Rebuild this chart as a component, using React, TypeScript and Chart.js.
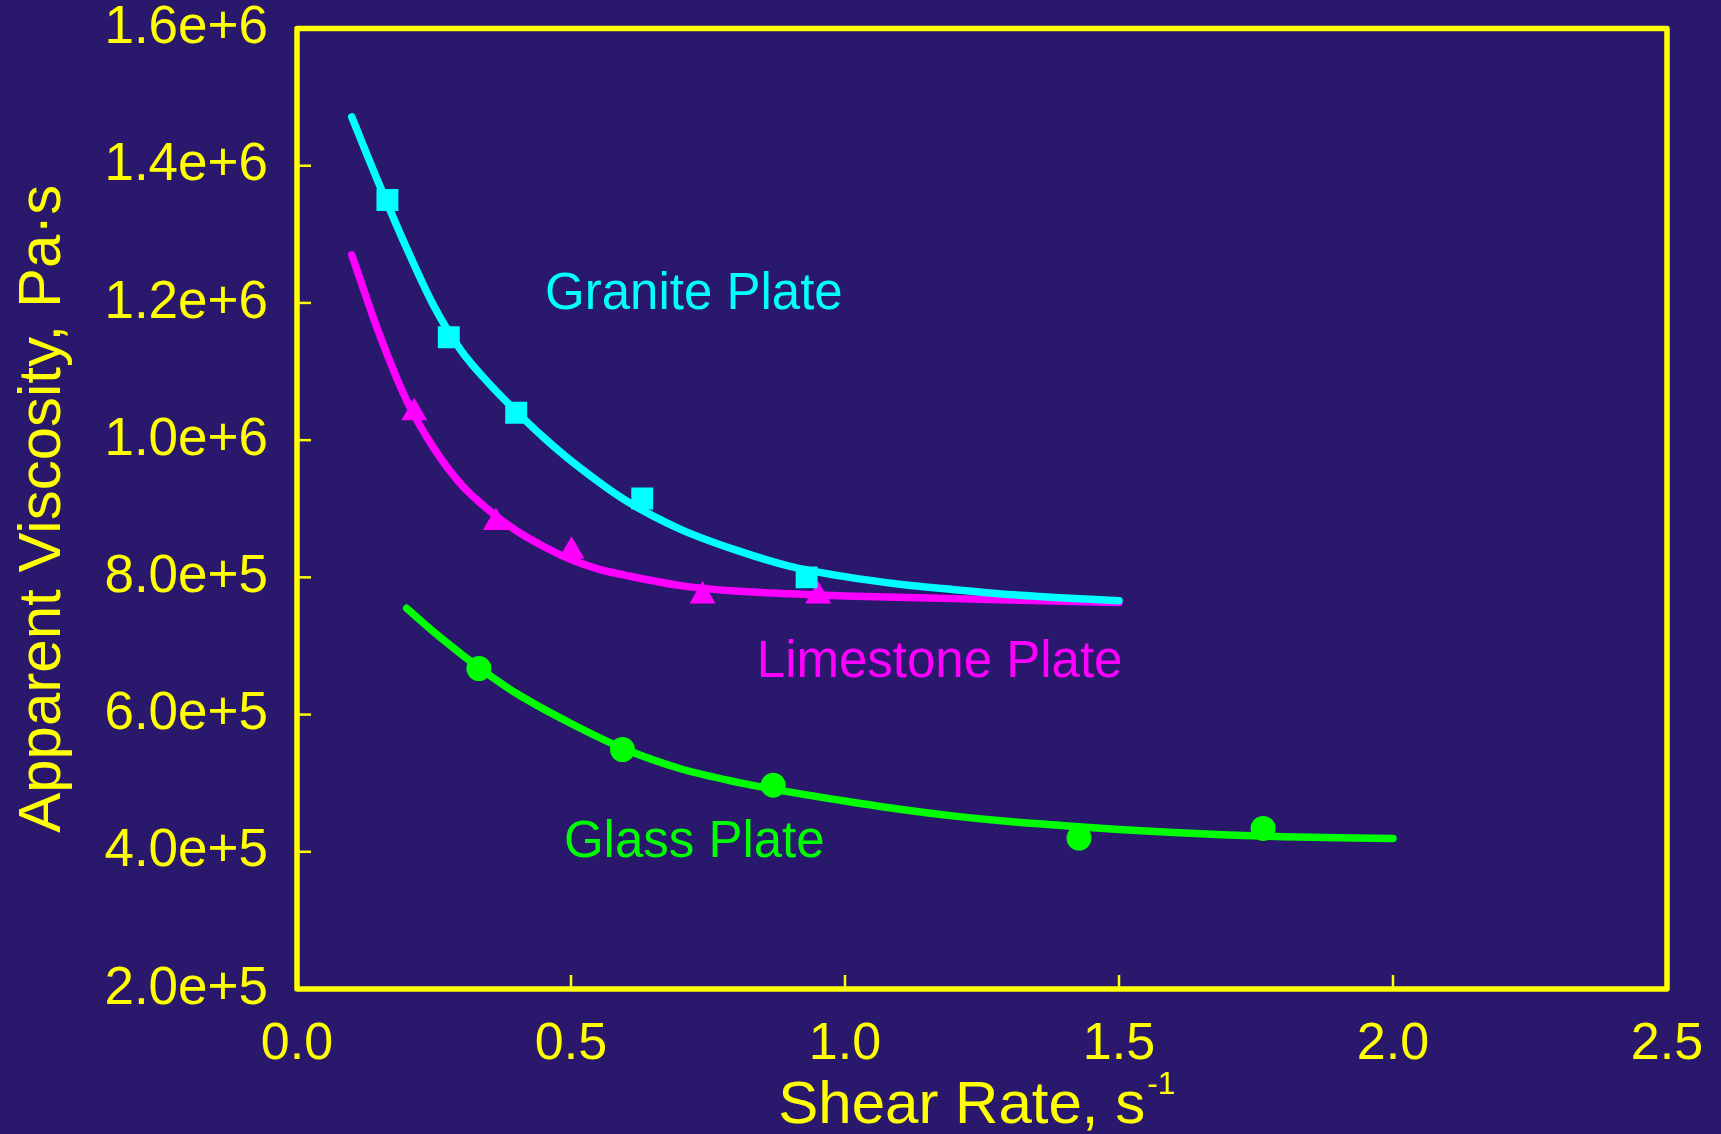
import React, { useEffect, useRef } from "react";
import { Chart, registerables } from "chart.js";

Chart.register(...registerables);

// ---------- data ----------
const graniteCurveX = [0.1, 0.15, 0.2, 0.25, 0.3, 0.35, 0.4, 0.45, 0.5, 0.6, 0.7, 0.8, 0.9, 1.0, 1.1, 1.2, 1.3, 1.4, 1.5];
const graniteCurveY = [1.471e6, 1.373e6, 1.28e6, 1.195e6, 1.13e6, 1.083e6, 1.042e6, 1.004e6, 0.97e6, 0.912e6, 0.87e6, 0.84e6, 0.816e6, 0.801e6, 0.79e6, 0.782e6, 0.775e6, 0.77e6, 0.766e6];
const granitePointsX = [0.165, 0.277, 0.4, 0.63, 0.93];
const granitePointsY = [1.35e6, 1.15e6, 1.04e6, 9.15e5, 8.0e5];

const limestoneCurveX = [0.1, 0.15, 0.2, 0.25, 0.3, 0.35, 0.4, 0.45, 0.5, 0.55, 0.6, 0.7, 0.8, 0.9, 1.0, 1.2, 1.4, 1.5];
const limestoneCurveY = [1.27e6, 1.155e6, 1.058e6, 0.988e6, 0.935e6, 0.898e6, 0.868e6, 0.845e6, 0.826e6, 0.812e6, 0.803e6, 0.788e6, 0.78e6, 0.776e6, 0.773e6, 0.769e6, 0.765e6, 0.7635e6];
const limestonePointsX = [0.214, 0.363, 0.501, 0.74, 0.951];
const limestonePointsY = [1.04e6, 8.8e5, 8.38e5, 7.73e5, 7.73e5];

const glassCurveX = [0.2, 0.25, 0.3, 0.35, 0.4, 0.5, 0.6, 0.7, 0.8, 0.9, 1.0, 1.1, 1.2, 1.3, 1.4, 1.5, 1.6, 1.7, 1.8, 1.9, 2.0];
const glassCurveY = [7.55e5, 7.2e5, 6.88e5, 6.58e5, 6.31e5, 5.87e5, 5.49e5, 5.21e5, 5.02e5, 4.87e5, 4.74e5, 4.62e5, 4.52e5, 4.44e5, 4.38e5, 4.325e5, 4.28e5, 4.245e5, 4.22e5, 4.205e5, 4.195e5];
const glassPointsX = [0.332, 0.594, 0.869, 1.427, 1.763];
const glassPointsY = [6.67e5, 5.49e5, 4.97e5, 4.2e5, 4.34e5];

const xAxisRange = [0, 2.5];
const xTickStep = 0.5;
const yAxisRange = [2.0e5, 1.6e6];
const yTickStep = 2.0e5;

const seriesNames = ["Granite Plate", "Limestone Plate", "Glass Plate"];
const labelX = [0.4526, 0.839, 0.487];
const labelY = [1.191e6, 6.547e5, 3.923e5];

const xTitle = "Shear Rate, s";
const xTitleSup = "-1";
const yTitle = "Apparent Viscosity, Pa·s";

// ---------- styles ----------
const BG = "#29186c";
const YELLOW = "#ffff00";
const COLORS = ["#00ffff", "#ff00ff", "#00ff00"];
const FONT = "'Liberation Sans', Arial, Helvetica, sans-serif";

const zip = (xs: number[], ys: number[]) => xs.map((x, i) => ({ x, y: ys[i] }));

const decorPlugin = {
  id: "decor",
  beforeDraw(chart: any) {
    const ctx = chart.ctx;
    ctx.save();
    ctx.fillStyle = BG;
    ctx.fillRect(0, 0, chart.width, chart.height);
    ctx.restore();
  },
  afterDraw(chart: any) {
    const ctx = chart.ctx;
    const { left, right, top, bottom } = chart.chartArea;
    const xs = chart.scales.x;
    const ys = chart.scales.y;
    ctx.save();
    // ticks (inward)
    ctx.strokeStyle = YELLOW;
    ctx.lineWidth = 2.5;
    ctx.lineCap = "butt";
    ys.ticks.forEach((t: any) => {
      const py = ys.getPixelForValue(t.value);
      if (Math.abs(py - top) < 2 || Math.abs(py - bottom) < 2) return;
      ctx.beginPath();
      ctx.moveTo(left, py);
      ctx.lineTo(left + 14, py);
      ctx.stroke();
    });
    xs.ticks.forEach((t: any) => {
      const px = xs.getPixelForValue(t.value);
      if (Math.abs(px - left) < 2 || Math.abs(px - right) < 2) return;
      ctx.beginPath();
      ctx.moveTo(px, bottom);
      ctx.lineTo(px, bottom - 14);
      ctx.stroke();
    });
    // frame
    ctx.lineWidth = 5.5;
    ctx.lineJoin = "round";
    ctx.strokeRect(left, top, right - left, bottom - top);

    // series labels
    ctx.textAlign = "left";
    ctx.textBaseline = "alphabetic";
    ctx.font = `51px ${FONT}`;
    seriesNames.forEach((name, i) => {
      ctx.fillStyle = COLORS[i];
      ctx.fillText(name, xs.getPixelForValue(labelX[i]), ys.getPixelForValue(labelY[i]));
    });

    // x title with superscript
    ctx.fillStyle = YELLOW;
    ctx.font = `60px ${FONT}`;
    const w1 = ctx.measureText(xTitle).width;
    ctx.font = `32px ${FONT}`;
    const w2 = ctx.measureText(xTitleSup).width;
    const cx = (left + right) / 2 - 5;
    const sx = cx - (w1 + w2 + 2) / 2;
    ctx.font = `60px ${FONT}`;
    ctx.fillText(xTitle, sx, 1123);
    ctx.font = `32px ${FONT}`;
    ctx.fillText(xTitleSup, sx + w1 + 2, 1094);

    // y title
    ctx.font = `60px ${FONT}`;
    ctx.textAlign = "center";
    ctx.translate(60, (top + bottom) / 2);
    ctx.rotate(-Math.PI / 2);
    ctx.fillText(yTitle, 0, 0);
    ctx.restore();
  },
};

const clearPadding = (s: any) => {
  s.paddingTop = 0;
  s.paddingBottom = 0;
  s.paddingLeft = 0;
  s.paddingRight = 0;
};

export default function App() {
  const ref = useRef<HTMLCanvasElement | null>(null);

  useEffect(() => {
    document.body.style.margin = "0";
    document.body.style.background = BG;
    const canvas = ref.current;
    if (!canvas) return;

    const curves = [
      zip(graniteCurveX, graniteCurveY),
      zip(limestoneCurveX, limestoneCurveY),
      zip(glassCurveX, glassCurveY),
    ];
    const points = [
      zip(granitePointsX, granitePointsY),
      zip(limestonePointsX, limestonePointsY),
      zip(glassPointsX, glassPointsY),
    ];
    const styles = ["rect", "triangle", "circle"];
    const radii = [15.5, 15, 12.5];

    const datasets: any[] = [];
    for (let i = 0; i < 3; i++) {
      datasets.push({
        label: seriesNames[i] + " markers",
        data: points[i],
        showLine: false,
        pointStyle: styles[i],
        pointRadius: radii[i],
        pointBackgroundColor: COLORS[i],
        pointBorderColor: COLORS[i],
        pointBorderWidth: 0,
        pointHoverRadius: radii[i],
      });
      datasets.push({
        label: seriesNames[i],
        data: curves[i],
        showLine: true,
        borderColor: COLORS[i],
        borderWidth: 7.5,
        borderCapStyle: "round",
        borderJoinStyle: "round",
        cubicInterpolationMode: "monotone",
        pointRadius: 0,
        pointHoverRadius: 0,
        fill: false,
      });
    }

    const chart = new Chart(canvas, {
      type: "scatter",
      data: { datasets },
      options: {
        animation: false,
        responsive: false,
        devicePixelRatio: 1,
        events: [],
        layout: { padding: { left: 0, top: 28.5, right: 54, bottom: 0 } },
        plugins: {
          legend: { display: false },
          tooltip: { enabled: false },
          title: { display: false },
        },
        scales: {
          x: {
            type: "linear",
            min: xAxisRange[0],
            max: xAxisRange[1],
            afterFit: (s: any) => {
              s.height = 145;
              clearPadding(s);
            },
            grid: { display: false, drawTicks: false },
            border: { display: false },
            ticks: {
              stepSize: xTickStep,
              color: YELLOW,
              padding: 24,
              maxRotation: 0,
              font: { family: FONT, size: 52 },
              callback: (v: any) => Number(v).toFixed(1),
            },
          },
          y: {
            type: "linear",
            min: yAxisRange[0],
            max: yAxisRange[1],
            afterFit: (s: any) => {
              s.width = 297;
              clearPadding(s);
            },
            grid: { display: false, drawTicks: false },
            border: { display: false },
            ticks: {
              stepSize: yTickStep,
              color: YELLOW,
              padding: 29,
              font: { family: FONT, size: 53, lineHeight: 1 },
              callback: (v: any) => Number(v).toExponential(1),
            },
          },
        },
      },
      plugins: [decorPlugin],
    } as any);

    return () => chart.destroy();
  }, []);

  return (
    <div style={{ width: 1721, height: 1134, background: BG }}>
      <canvas ref={ref} width={1721} height={1134} style={{ display: "block" }} />
    </div>
  );
}
